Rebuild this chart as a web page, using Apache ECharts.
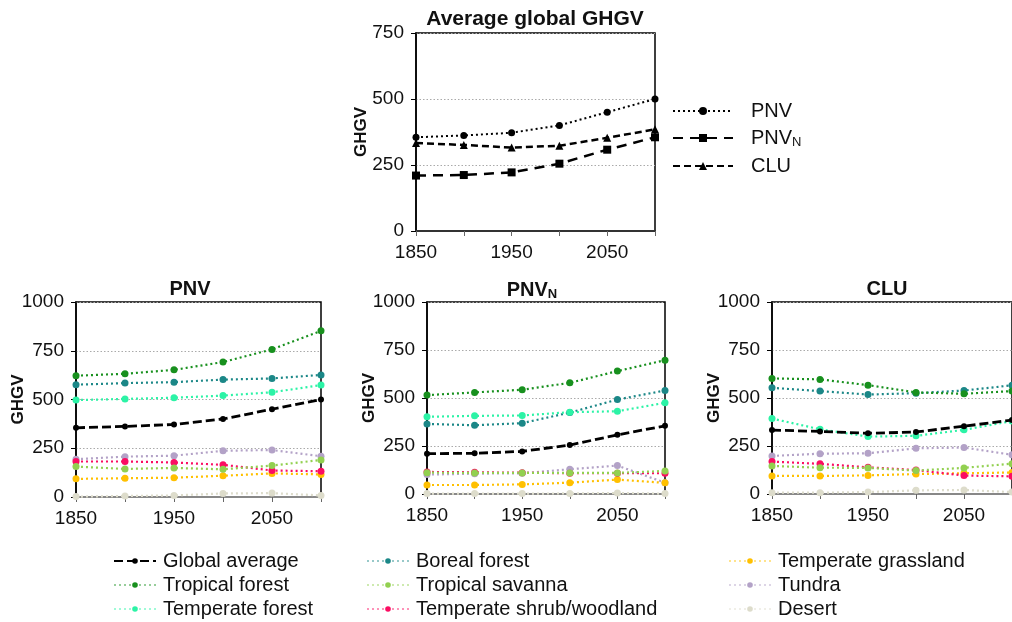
<!DOCTYPE html>
<html>
<head>
<meta charset="utf-8" />
<title>GHGV</title>
<script src="https://cdn.jsdelivr.net/npm/echarts@6/dist/echarts.min.js"></script>
<style>
html, body { margin: 0; padding: 0; background: #fff; }
#chart { width: 1012px; height: 622px; }
</style>
</head>
<body>
<div id="chart"></div>
<script>
// x categories (ticks every 50 yrs, labels every 100)
var years = ['1850', '1900', '1950', '2000', '2050', '2100'];

// top panel: average global GHGV
var avgPNV  = [355, 362, 372, 400, 450, 500];
var avgPNVN = [210, 212, 222, 255, 308, 355];
var avgCLU  = [333, 326, 316, 323, 353, 385];

// biome order used by the three panels below
var biomes = ['Global average', 'Tropical forest', 'Temperate forest', 'Boreal forest',
  'Tropical savanna', 'Temperate shrub/woodland', 'Temperate grassland', 'Tundra', 'Desert'];
var biomeColors = ['#000000', '#18901e', '#2cf3a6', '#1b8787',
  '#92d050', '#fb0d62', '#ffc000', '#b3a2c7', '#dddccb'];

// PNV panel, one row per biome
var pnvRows = [
  [355, 362, 372, 400, 450, 500],
  [622, 632, 652, 692, 757, 852],
  [497, 503, 509, 520, 537, 574],
  [576, 584, 589, 602, 608, 626],
  [156, 144, 149, 142, 161, 190],
  [182, 182, 177, 165, 136, 132],
  [93, 96, 99, 109, 121, 116],
  [194, 207, 212, 237, 241, 209],
  [2, 5, 8, 18, 20, 8]
];

// PNV_N panel
var pnvnRows = [
  [210, 212, 222, 255, 308, 355],
  [515, 529, 543, 579, 640, 697],
  [402, 407, 409, 426, 431, 475],
  [365, 358, 369, 424, 492, 539],
  [111, 110, 110, 110, 110, 120],
  [115, 113, 111, 108, 108, 108],
  [47, 47, 50, 59, 75, 58],
  [101, 106, 108, 129, 148, 59],
  [2, 2, 2, 3, 5, 2]
];

// CLU panel
var cluRows = [
  [333, 326, 316, 323, 353, 385],
  [602, 597, 567, 529, 522, 536],
  [393, 337, 299, 303, 334, 380],
  [553, 536, 518, 525, 539, 566],
  [146, 137, 136, 122, 136, 158],
  [169, 157, 139, 125, 96, 92],
  [94, 94, 97, 104, 108, 112],
  [198, 210, 212, 238, 242, 204],
  [7, 7, 10, 19, 21, 10]
];

var FONT = '"Liberation Sans", Arial, sans-serif';
var chart = echarts.init(document.getElementById('chart'));

var grids = [
  { left: 416, top: 33, width: 239, height: 198 },
  { left: 76, top: 302, width: 245, height: 195 },
  { left: 427, top: 302, width: 238, height: 192 },
  { left: 772, top: 302, width: 244, height: 192 }
];

function xAxisFor(i) {
  return {
    type: 'category', gridIndex: i, data: years, boundaryGap: false,
    axisLine: { lineStyle: { color: i === 0 ? '#333' : '#888', width: 2 } },
    axisTick: { show: true, interval: 0, length: 5, lineStyle: { color: '#666' } },
    axisLabel: { interval: 1, color: '#111', fontSize: 19, fontFamily: FONT, margin: 12 },
    splitLine: { show: false }
  };
}

function yAxisFor(i) {
  return {
    type: 'value', gridIndex: i, min: 0, max: i === 0 ? 750 : 1000, interval: 250,
    name: 'GHGV', nameLocation: 'middle', nameGap: i === 0 ? 46 : 49, nameMoveOverlap: false,
    nameTextStyle: { fontSize: 17, fontWeight: 'bold', color: '#111', fontFamily: FONT },
    axisLine: { show: true, lineStyle: { color: '#000', width: 1.5 } },
    axisTick: { show: true, length: 5, lineStyle: { color: '#000' } },
    axisLabel: {
      color: '#111', fontSize: 19, fontFamily: FONT, margin: 12,
      formatter: function (v) { return String(v); }
    },
    splitLine: { show: true, lineStyle: { color: '#aaa', type: [1.5, 2], width: 1 } }
  };
}

function panelSeries(idx, rows) {
  var out = [];
  // draw desert first, global average last
  for (var i = biomes.length - 1; i >= 0; i--) {
    var isAvg = i === 0;
    out.push({
      name: biomes[i], type: 'line', xAxisIndex: idx, yAxisIndex: idx,
      data: rows[i], symbol: 'circle', symbolSize: isAvg ? 6 : 7,
      itemStyle: { color: biomeColors[i] },
      lineStyle: { color: biomeColors[i], width: isAvg ? 2.8 : 2.2, type: isAvg ? [9, 4] : [2, 3] },
      z: isAvg ? 5 : 3
    });
  }
  return out;
}

var series = [
  { name: 'PNV', type: 'line', data: avgPNV, symbol: 'circle', symbolSize: 7,
    itemStyle: { color: '#000' }, lineStyle: { color: '#000', width: 2, type: [2, 3] } },
  { name: 'PNV_N', type: 'line', data: avgPNVN, symbol: 'rect', symbolSize: 8,
    itemStyle: { color: '#000' }, lineStyle: { color: '#000', width: 2.5, type: [10, 7] } },
  { name: 'CLU', type: 'line', data: avgCLU, symbol: 'triangle', symbolSize: 8,
    itemStyle: { color: '#000' }, lineStyle: { color: '#000', width: 2.5, type: [7, 4] } }
].concat(panelSeries(1, pnvRows), panelSeries(2, pnvnRows), panelSeries(3, cluRows));

function titleFor(text, x, y, size) {
  return {
    text: text, left: x, top: y, textAlign: 'center', padding: 0,
    textStyle: {
      fontSize: size, fontWeight: 'bold', color: '#111', fontFamily: FONT,
      rich: {
        a: { fontSize: size, fontWeight: 'bold', color: '#111', fontFamily: FONT },
        s: { fontSize: 13, fontWeight: 'bold', color: '#111', fontFamily: FONT, padding: [9, 0, 0, 0] }
      }
    }
  };
}

function bottomLegend(names, x) {
  return {
    orient: 'vertical', left: x, top: 551, padding: 0, itemGap: 4,
    itemWidth: 42, itemHeight: 7, selectedMode: false,
    data: names.map(function (n) {
      return n === 'Global average' ? { name: n } : { name: n, lineStyle: { opacity: 0.45 } };
    }),
    textStyle: { fontSize: 20, color: '#111', fontFamily: FONT, padding: [0, 0, 0, 2] }
  };
}

var option = {
  animation: false,
  backgroundColor: '#fff',
  title: [
    titleFor('Average global GHGV', 535, 9, 21),
    titleFor('PNV', 190, 279, 20),
    titleFor('{a|PNV}{s|N}', 532, 279, 20),
    titleFor('CLU', 887, 279, 20)
  ],
  legend: [
    {
      orient: 'vertical', left: 672, top: 101, padding: 0, itemGap: 7,
      itemWidth: 60, itemHeight: 10, selectedMode: false,
      data: ['PNV', 'PNV_N', 'CLU'],
      formatter: function (n) { return n === 'PNV_N' ? 'PNV{s|N}' : n; },
      textStyle: {
        fontSize: 20, color: '#111', fontFamily: FONT, padding: [0, 0, 0, 13],
        rich: { s: { fontSize: 13, color: '#111', fontFamily: FONT, padding: [9, 0, 0, 0] } }
      }
    },
    bottomLegend(['Global average', 'Tropical forest', 'Temperate forest'], 113),
    bottomLegend(['Boreal forest', 'Tropical savanna', 'Temperate shrub/woodland'], 366),
    bottomLegend(['Temperate grassland', 'Tundra', 'Desert'], 728)
  ],
  grid: grids.map(function (g) {
    return Object.assign({ show: true, borderColor: '#000', borderWidth: 1.5, containLabel: false }, g);
  }),
  xAxis: [0, 1, 2, 3].map(xAxisFor),
  yAxis: [0, 1, 2, 3].map(yAxisFor),
  series: series
};

chart.setOption(option);
window.onresize = function () { chart.resize(); };
</script>
</body>
</html>
